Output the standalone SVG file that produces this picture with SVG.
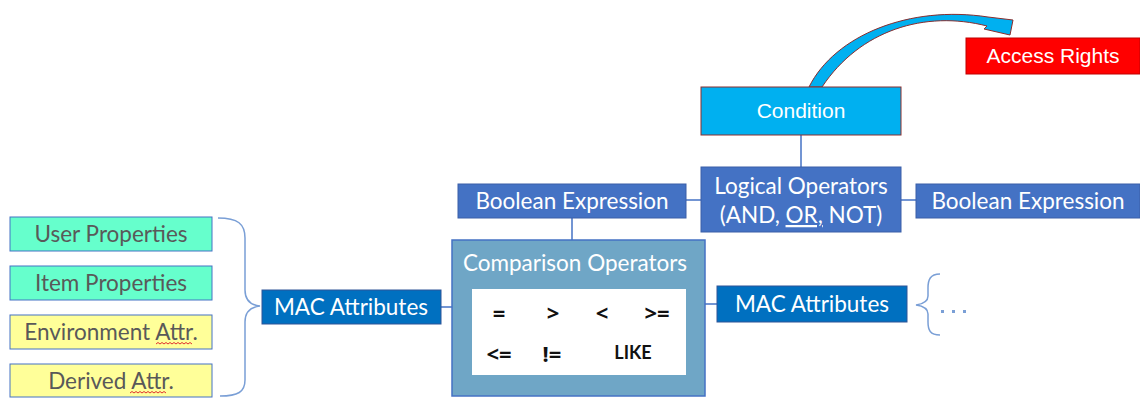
<svg xmlns="http://www.w3.org/2000/svg" width="1140" height="398" viewBox="0 0 1140 398">
<style>
.cal{font-family:Lato,"Noto Sans","Liberation Sans",sans-serif;}
.ari{font-family:"Liberation Sans",Arial,sans-serif;}
.wt{fill:#ffffff;font-size:22.5px;text-anchor:middle;}
.gt{fill:#595959;font-size:22.5px;text-anchor:middle;}
.op{fill:#111111;font-size:22px;font-weight:bold;text-anchor:middle;font-family:"Noto Sans","DejaVu Sans",sans-serif;}
.lk{fill:#111111;font-size:18px;font-weight:bold;text-anchor:middle;}
.blue{fill:#4472C4;stroke:#3A5FA8;stroke-width:1;}
.mac{fill:#0070C0;stroke:#2F5597;stroke-width:1;}
.conn{stroke:#4472C4;stroke-width:1.5;fill:none;}
.brace{stroke:#7A9FD6;stroke-width:1.5;fill:none;}
.sq{stroke:#E03030;stroke-width:1;fill:none;}
</style>
<g id="connectors">
<line class="conn" x1="801" y1="135" x2="801" y2="167"/>
<line class="conn" x1="686" y1="200" x2="701" y2="200"/>
<line class="conn" x1="901" y1="200" x2="916" y2="200"/>
<line class="conn" x1="572" y1="218" x2="572" y2="240"/>
<line class="conn" x1="441" y1="307" x2="452" y2="307"/>
<line class="conn" x1="705" y1="304" x2="717" y2="304"/>
<path class="brace" d="M218,218 C238,218 245,224 245,238 L245,290 C245,300 250,305 260,306 C250,307 245,312 245,322 L245,380 C245,392 238,396 220,396"/>
<path class="brace" d="M940,274 C930,274 928,280 928,288 L928,296 C928,301 923,304 916,305 C923,306 928,309 928,314 L928,322 C928,330 930,335 940,335"/>
<path d="M809,87 C835,35 910,5 988,17 L1013,20 L1010,35 L984,29 L987,26 C925,10 860,30 822,87 Z" fill="#00B0F0" stroke="#8B2E2E" stroke-width="1"/>
</g>
<g id="access-rights">
<rect x="966" y="38" width="174" height="36" fill="#FF0000" stroke="#C00000" stroke-width="1"/>
<text class="ari wt" x="1053" y="63" style="font-size:21px">Access Rights</text>
</g>
<g id="condition">
<rect x="701" y="87" width="200" height="48" fill="#00B0F0" stroke="#8B2E2E" stroke-width="1"/>
<text class="ari wt" x="801" y="118" style="font-size:21px">Condition</text>
</g>
<g id="logical-operators">
<rect class="blue" x="701" y="167" width="200" height="65"/>
<text class="cal wt" x="801" y="194">Logical Operators</text>
<text class="cal wt" x="801" y="223">(AND, <tspan text-decoration="underline">OR,</tspan> NOT)</text>
</g>
<g id="boolean-left">
<rect class="blue" x="458" y="184" width="228" height="34"/>
<text class="cal wt" x="572" y="209">Boolean Expression</text>
</g>
<g id="boolean-right">
<rect class="blue" x="916" y="184" width="224" height="34"/>
<text class="cal wt" x="1028" y="209">Boolean Expression</text>
</g>
<g id="comparison-operators">
<rect x="452" y="240" width="253" height="156" fill="#6FA6C6" stroke="#4472C4" stroke-width="1.5"/>
<text class="cal wt" x="575" y="271">Comparison Operators</text>
<rect x="472" y="289" width="214" height="86" fill="#ffffff"/>
<text class="op" x="499" y="321">=</text>
<text class="op" x="553" y="321">&gt;</text>
<text class="op" x="602" y="321">&lt;</text>
<text class="op" x="657" y="321">&gt;=</text>
<text class="op" x="499" y="362">&lt;=</text>
<text class="op" x="552" y="362">!=</text>
<text class="cal lk" x="633" y="359">LIKE</text>
</g>
<g id="mac-left">
<rect class="mac" x="262" y="290" width="179" height="34"/>
<text class="cal wt" x="351" y="315">MAC Attributes</text>
</g>
<g id="mac-right">
<rect class="mac" x="717" y="286" width="190" height="36"/>
<text class="cal wt" x="812" y="312">MAC Attributes</text>
</g>
<g id="ellipsis">
<rect x="941" y="310" width="3" height="3" fill="#7A9FD6"/>
<rect x="952" y="310" width="3" height="3" fill="#7A9FD6"/>
<rect x="963" y="310" width="3" height="3" fill="#7A9FD6"/>
</g>
<g id="user-properties">
<rect x="10" y="217" width="202" height="34" fill="#66FFCC" stroke="#4472C4" stroke-width="1"/>
<text class="cal gt" x="111" y="242">User Properties</text>
</g>
<g id="item-properties">
<rect x="10" y="266" width="202" height="34" fill="#66FFCC" stroke="#4472C4" stroke-width="1"/>
<text class="cal gt" x="111" y="291">Item Properties</text>
</g>
<g id="environment-attr">
<rect x="10" y="315" width="202" height="34" fill="#FFFF99" stroke="#4472C4" stroke-width="1"/>
<text class="cal gt" x="111" y="340">Environment Attr.</text>
<path class="sq" d="M156,344 l2,-1.5 l2,1.5 l2,-1.5 l2,1.5 l2,-1.5 l2,1.5 l2,-1.5 l2,1.5 l2,-1.5 l2,1.5 l2,-1.5 l2,1.5 l2,-1.5 l2,1.5 l2,-1.5 l2,1.5 l2,-1.5 l2,1.5"/>
</g>
<g id="derived-attr">
<rect x="10" y="364" width="202" height="33" fill="#FFFF99" stroke="#4472C4" stroke-width="1"/>
<text class="cal gt" x="111" y="389">Derived Attr.</text>
<path class="sq" d="M130,393 l2,-1.5 l2,1.5 l2,-1.5 l2,1.5 l2,-1.5 l2,1.5 l2,-1.5 l2,1.5 l2,-1.5 l2,1.5 l2,-1.5 l2,1.5 l2,-1.5 l2,1.5 l2,-1.5 l2,1.5 l2,-1.5 l2,1.5"/>
</g>
</svg>
